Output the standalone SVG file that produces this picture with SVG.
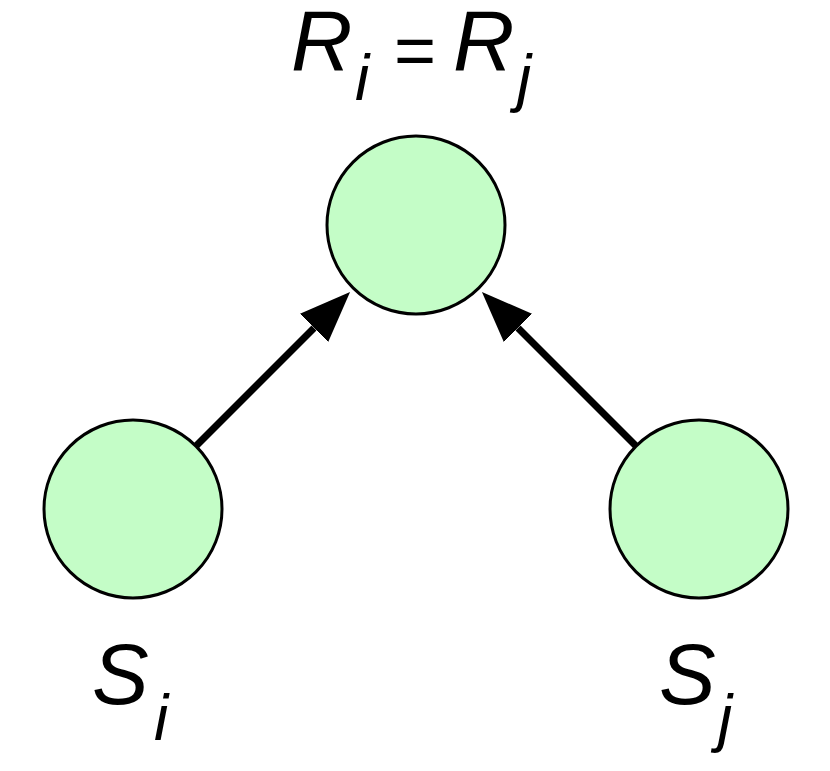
<svg xmlns="http://www.w3.org/2000/svg" width="830" height="771" viewBox="0 0 830 771">
<defs>
<style>
.node{fill:#c4fdc7;stroke:#000;stroke-width:3}
.edge{stroke:#000;stroke-width:7;fill:none}
.big{font-family:"Liberation Sans",Arial,sans-serif;font-style:italic;font-size:85px;fill:#000}
.sub{font-family:"Liberation Sans",Arial,sans-serif;font-style:italic;font-size:64px;fill:#000}
.eq{font-family:"Liberation Sans",Arial,sans-serif;font-size:72px;fill:#000}
</style>
<marker id="ah" markerUnits="userSpaceOnUse" viewBox="0 0 52 40" markerWidth="52" markerHeight="40" refX="0" refY="20" orient="auto">
<path d="M0,0 L51,20 L0,40 z" fill="#000"/>
</marker>
</defs>
<rect width="830" height="771" fill="#fff"/>
<g id="connectors">
<line class="edge" x1="195" y1="447" x2="314" y2="328" marker-end="url(#ah)"/>
<line class="edge" x1="637" y1="447" x2="518" y2="328" marker-end="url(#ah)"/>
</g>
<g id="R">
<circle class="node" cx="416" cy="225" r="89"/>
<text class="big" x="291" y="70">R</text>
<text class="sub" x="355" y="100">i</text>
<text class="eq" x="394" y="75">=</text>
<text class="big" x="453" y="70">R</text>
<text class="sub" x="517" y="100">j</text>
</g>
<g id="Si">
<circle class="node" cx="133" cy="509" r="89"/>
<text class="big" x="92" y="704">S</text>
<text class="sub" x="154" y="740">i</text>
</g>
<g id="Sj">
<circle class="node" cx="699" cy="509" r="89"/>
<text class="big" x="659" y="704">S</text>
<text class="sub" x="718" y="740">j</text>
</g>
</svg>
